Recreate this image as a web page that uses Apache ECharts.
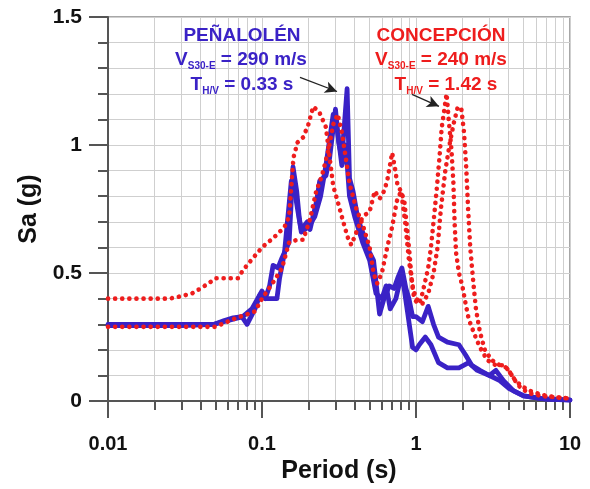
<!DOCTYPE html>
<html>
<head>
<meta charset="utf-8">
<script src="https://cdn.jsdelivr.net/npm/echarts@6/dist/echarts.min.js"></script>
<style>html,body{margin:0;padding:0;background:#fff}#c{width:590px;height:489px}</style>
</head>
<body>
<div id="c"></div>
<script>
// ---- data (period in s, Sa in g) ----
const penalolenA = [[0.01,0.30],[0.02,0.30],[0.03,0.30],[0.04,0.30],[0.049,0.30],[0.057,0.315],[0.065,0.325],[0.074,0.33],[0.08,0.30],[0.09,0.36],[0.097,0.415],[0.105,0.40],[0.112,0.45],[0.118,0.53],[0.127,0.52],[0.135,0.56],[0.15,0.62],[0.159,0.915],[0.168,0.82],[0.175,0.71],[0.18,0.67],[0.197,0.70],[0.205,0.67],[0.226,0.78],[0.237,0.86],[0.26,0.88],[0.275,0.95],[0.30,1.14],[0.315,1.01],[0.33,0.95],[0.357,1.22],[0.37,0.87],[0.39,0.82],[0.42,0.71],[0.45,0.66],[0.50,0.58],[0.53,0.55],[0.58,0.34],[0.62,0.40],[0.67,0.45],[0.72,0.44],[0.76,0.48],[0.81,0.52],[0.86,0.44],[0.9,0.40],[0.95,0.33],[1.0,0.33],[1.1,0.31],[1.2,0.37],[1.3,0.30],[1.4,0.25],[1.6,0.23],[1.9,0.22],[2.1,0.18],[2.3,0.14],[2.6,0.12],[3.0,0.10],[3.3,0.12],[3.7,0.08],[4.3,0.04],[5,0.02],[6.5,0.01],[10,0.005]];
const penalolenB = [[0.01,0.295],[0.03,0.295],[0.049,0.30],[0.065,0.32],[0.075,0.33],[0.086,0.36],[0.1,0.43],[0.105,0.40],[0.125,0.40],[0.13,0.48],[0.14,0.58],[0.155,0.86],[0.165,0.80],[0.18,0.66],[0.2,0.68],[0.22,0.72],[0.24,0.80],[0.26,0.92],[0.29,1.12],[0.31,1.05],[0.33,0.92],[0.35,1.0],[0.37,0.80],[0.4,0.72],[0.45,0.62],[0.5,0.55],[0.55,0.42],[0.6,0.40],[0.64,0.45],[0.68,0.36],[0.74,0.40],[0.81,0.50],[0.88,0.35],[0.95,0.21],[1.0,0.20],[1.05,0.22],[1.15,0.25],[1.25,0.22],[1.4,0.15],[1.6,0.13],[1.9,0.13],[2.2,0.15],[2.5,0.12],[3.0,0.10],[3.5,0.08],[4.0,0.05],[5,0.02],[7,0.008],[10,0.004]];
const concepcionA = [[0.01,0.40],[0.015,0.40],[0.02,0.40],[0.025,0.40],[0.03,0.41],[0.035,0.42],[0.04,0.44],[0.045,0.46],[0.05,0.48],[0.06,0.48],[0.07,0.48],[0.075,0.51],[0.085,0.55],[0.1,0.60],[0.12,0.64],[0.14,0.68],[0.15,0.72],[0.16,0.95],[0.17,1.01],[0.185,1.03],[0.2,1.08],[0.215,1.15],[0.235,1.13],[0.26,1.07],[0.275,0.95],[0.29,0.84],[0.31,0.78],[0.33,0.72],[0.36,0.64],[0.38,0.61],[0.41,0.66],[0.45,0.72],[0.5,0.74],[0.54,0.82],[0.58,0.79],[0.62,0.82],[0.65,0.86],[0.7,0.97],[0.73,0.91],[0.76,0.84],[0.8,0.82],[0.84,0.78],[0.87,0.69],[0.9,0.6],[0.93,0.5],[0.96,0.42],[1.0,0.39],[1.05,0.38],[1.1,0.42],[1.2,0.52],[1.25,0.6],[1.3,0.7],[1.36,0.82],[1.42,0.95],[1.47,1.07],[1.52,1.13],[1.58,1.2],[1.63,1.1],[1.7,0.98],[1.75,0.85],[1.78,0.7],[1.82,0.58],[1.9,0.5],[2.0,0.45],[2.1,0.38],[2.2,0.32],[2.4,0.26],[2.6,0.21],[2.9,0.16],[3.3,0.14],[3.7,0.14],[4.0,0.12],[4.4,0.08],[4.8,0.05],[5.5,0.03],[6.5,0.02],[8,0.015],[10,0.01]];
const concepcionB = [[0.01,0.29],[0.02,0.29],[0.03,0.29],[0.04,0.29],[0.05,0.29],[0.065,0.32],[0.09,0.35],[0.1,0.40],[0.12,0.47],[0.135,0.52],[0.15,0.62],[0.17,0.63],[0.185,0.63],[0.205,0.71],[0.225,0.82],[0.245,0.88],[0.27,0.98],[0.29,1.08],[0.31,1.12],[0.33,1.05],[0.35,0.95],[0.37,0.85],[0.41,0.75],[0.45,0.69],[0.5,0.6],[0.53,0.5],[0.56,0.46],[0.6,0.5],[0.65,0.6],[0.7,0.68],[0.75,0.78],[0.8,0.82],[0.85,0.7],[0.9,0.55],[0.95,0.45],[1.0,0.4],[1.1,0.38],[1.2,0.42],[1.3,0.5],[1.38,0.6],[1.45,0.75],[1.55,0.9],[1.65,1.0],[1.75,1.08],[1.87,1.15],[1.97,1.14],[2.05,1.05],[2.12,0.91],[2.18,0.75],[2.25,0.6],[2.35,0.47],[2.45,0.36],[2.6,0.27],[2.8,0.2],[3.1,0.16],[3.5,0.14],[3.9,0.13],[4.3,0.09],[4.8,0.06],[5.5,0.04],[6.5,0.025],[8,0.015],[10,0.01]];

const xMajorTicks = [0.01, 0.1, 1, 10];
const xMinorTicks = [0.02,0.03,0.04,0.05,0.06,0.07,0.08,0.09,0.2,0.3,0.4,0.5,0.6,0.7,0.8,0.9,2,3,4,5,6,7,8,9];
const yTickLabels = ['0', '0.5', '1', '1.5'];

const arrowBlue = [[0.1765, 1.264], [0.307, 1.209]];
const arrowRed = [[0.942, 1.198], [1.41, 1.151]];

const BLUE = '#3a22c6';
const RED = '#ee1d1d';
const FONT = 'Liberation Sans, Arial, sans-serif';

const chart = echarts.init(document.getElementById('c'), null, {renderer: 'canvas'});
const axisColor = '#555';
const gridColor = '#cfcfcf';

function blueSeries(name, data) {
  return {name, type: 'line', data, showSymbol: false, symbol: 'none', z: 3,
    lineStyle: {color: BLUE, width: 4.8, join: 'round', cap: 'round'}};
}
function redSeries(name, data) {
  return {name, type: 'line', data, showSymbol: false, symbol: 'none', z: 4,
    lineStyle: {color: RED, width: 4.6, type: [0.1, 7], cap: 'round'}};
}
function richLabel(main, sub, rest, color) {
  return {
    text: '{a|' + main + '}{b|' + sub + '}{a|' + rest + '}', align: 'center', verticalAlign: 'middle',
    rich: {
      a: {font: 'bold 19px ' + FONT, fill: color, lineHeight: 22},
      b: {font: 'bold 10px ' + FONT, fill: color, verticalAlign: 'bottom'}
    }
  };
}

const option = {
  animation: false,
  grid: {left: 108, right: 20, top: 17, bottom: 85, show: true, borderColor: '#8a8a8a', borderWidth: 1.5},
  xAxis: [
    {type: 'log', logBase: 10, min: 0.01, max: 10, position: 'bottom',
      axisLine: {show: true, onZero: false, lineStyle: {color: axisColor, width: 2}},
      axisTick: {show: true, length: 17, lineStyle: {color: axisColor, width: 2}, customValues: xMajorTicks},
      axisLabel: {customValues: xMajorTicks, margin: 33, fontFamily: FONT, fontWeight: 'bold', fontSize: 20, color: '#111',
        formatter: v => String(+v.toPrecision(3))},
      splitLine: {show: true, lineStyle: {color: gridColor, width: 1}},
      minorTick: {show: false},
      name: 'Period (s)', nameLocation: 'middle', nameGap: 54,
      nameTextStyle: {fontFamily: FONT, fontWeight: 'bold', fontSize: 25, color: '#111'}
    },
    {type: 'log', logBase: 10, min: 0.01, max: 10, position: 'bottom',
      axisLine: {show: false},
      axisTick: {show: true, length: 9, lineStyle: {color: axisColor, width: 2}, customValues: xMinorTicks},
      axisLabel: {show: false},
      splitLine: {show: true, lineStyle: {color: gridColor, width: 1}}
    }
  ],
  yAxis: [
    {type: 'value', min: 0, max: 1.5, interval: 0.1, position: 'left',
      axisLine: {show: true, onZero: false, lineStyle: {color: axisColor, width: 2}},
      axisTick: {show: true, length: 10, lineStyle: {color: axisColor, width: 2}},
      axisLabel: {show: false},
      splitLine: {show: true, lineStyle: {color: gridColor, width: 1}}
    },
    {type: 'value', min: 0, max: 1.5, interval: 0.5, position: 'left',
      axisLine: {show: false},
      axisTick: {show: true, length: 19, lineStyle: {color: axisColor, width: 2}},
      axisLabel: {margin: 26, fontFamily: FONT, fontWeight: 'bold', fontSize: 21, color: '#111',
        formatter: v => yTickLabels[Math.round(v / 0.5)]},
      splitLine: {show: false},
      name: 'Sa (g)', nameLocation: 'middle', nameGap: 57, nameRotate: 90,
      nameTextStyle: {fontFamily: FONT, fontWeight: 'bold', fontSize: 25, color: '#111'}
    }
  ],
  series: [
    blueSeries('Peñalolén A', penalolenA),
    blueSeries('Peñalolén B', penalolenB),
    redSeries('Concepción A', concepcionA),
    Object.assign(redSeries('Concepción B', concepcionB), {
      markLine: {silent: true, symbol: ['none', 'arrow'], symbolSize: [9, 12], animation: false,
        lineStyle: {color: '#222', width: 1.3, type: 'solid'}, label: {show: false},
        data: [
          [{coord: arrowBlue[0]}, {coord: arrowBlue[1]}],
          [{coord: arrowRed[0]}, {coord: arrowRed[1]}]
        ]}
    })
  ],
  graphic: [
    {type: 'text', z: 100, x: 242, y: 36, style: {text: 'PEÑALOLÉN', font: 'bold 19px ' + FONT, fill: BLUE, align: 'center', verticalAlign: 'middle'}},
    {type: 'text', z: 100, x: 241, y: 60, style: richLabel('V', 'S30-E', ' = 290 m/s', BLUE)},
    {type: 'text', z: 100, x: 242, y: 85, style: richLabel('T', 'H/V', ' = 0.33 s', BLUE)},
    {type: 'text', z: 100, x: 441, y: 36, style: {text: 'CONCEPCIÓN', font: 'bold 19px ' + FONT, fill: RED, align: 'center', verticalAlign: 'middle'}},
    {type: 'text', z: 100, x: 441, y: 60, style: richLabel('V', 'S30-E', ' = 240 m/s', RED)},
    {type: 'text', z: 100, x: 446, y: 85, style: richLabel('T', 'H/V', ' = 1.42 s', RED)}
  ]
};
chart.setOption(option);
</script>
</body>
</html>
